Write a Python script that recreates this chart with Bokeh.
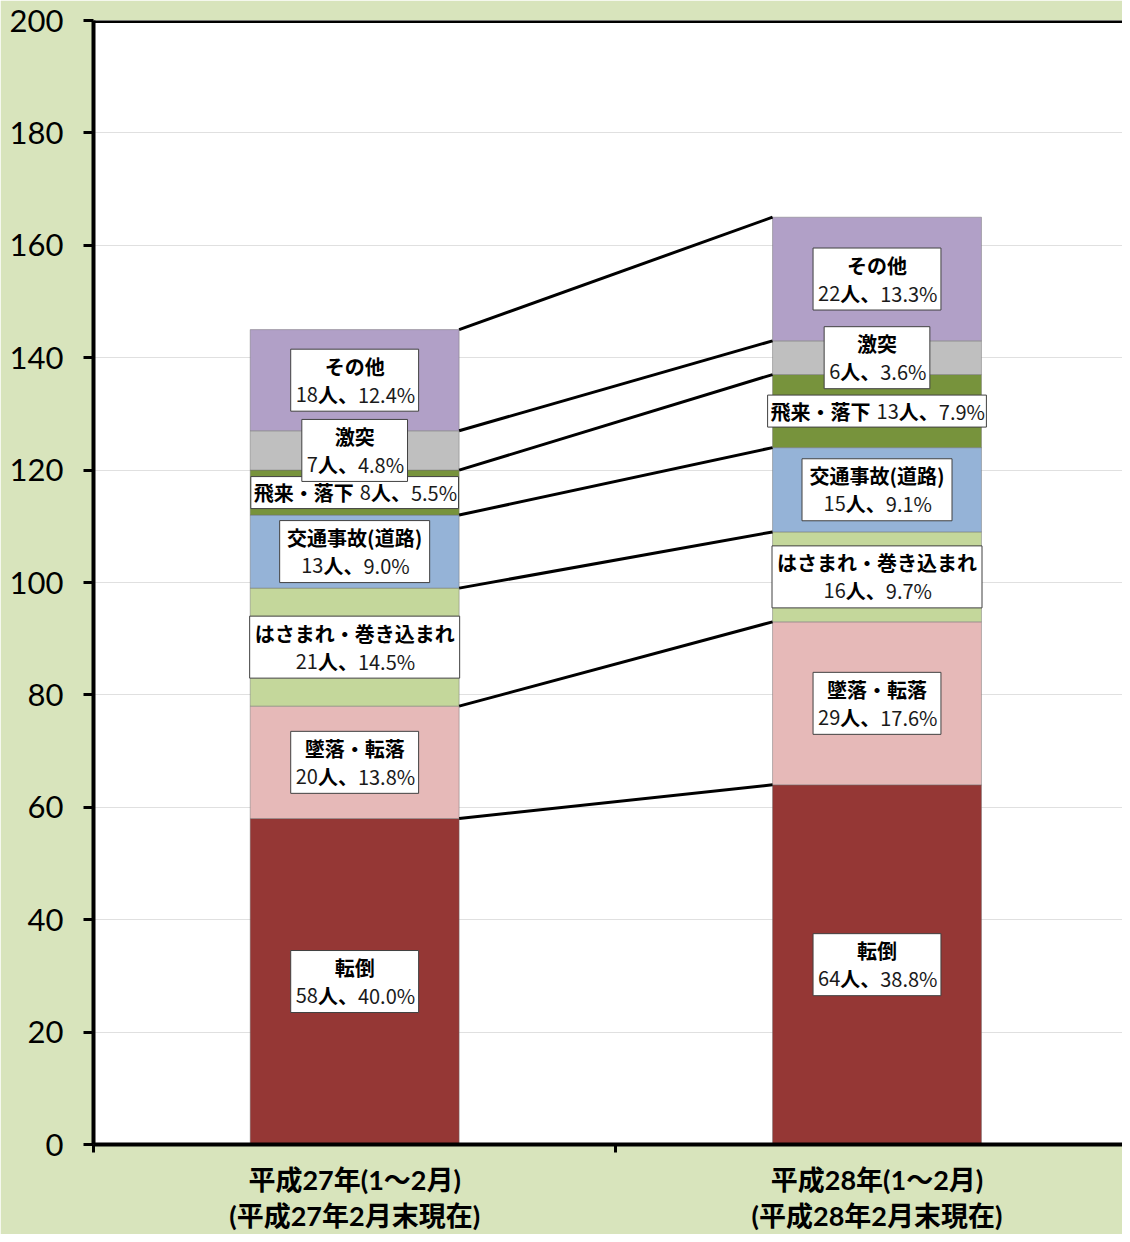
from bokeh.plotting import figure
from bokeh.models import ColumnDataSource, FixedTicker, Span, LinearAxis
from bokeh.core.properties import value
from bokeh.embed import file_html
from bokeh.resources import INLINE

# ---- data ----
categories = ["転倒", "墜落・転落", "はさまれ・巻き込まれ", "交通事故(道路)", "飛来・落下", "激突", "その他"]
period_line1 = ["平成27年(1～2月)", "平成28年(1～2月)"]
period_line2 = ["(平成27年2月末現在)", "(平成28年2月末現在)"]
h27_values = [58, 20, 21, 13, 8, 7, 18]
h28_values = [64, 29, 16, 15, 13, 6, 22]
h27_pct = ["40.0%", "13.8%", "14.5%", "9.0%", "5.5%", "4.8%", "12.4%"]
h28_pct = ["38.8%", "17.6%", "9.7%", "9.1%", "7.9%", "3.6%", "13.3%"]
single_line_cats = ["飛来・落下"]
y_ticks = [0, 20, 40, 60, 80, 100, 120, 140, 160, 180, 200]

colors = ["#953735", "#e6b9b8", "#c4d79b", "#95b3d7", "#77933c", "#bfbfbf", "#b1a0c7"]
FONT = "Noto Sans CJK JP"
AXFONT = "Lato, 'Noto Sans CJK JP'"
FS = 20
UNIT = "人、"

def est_width(s, fs):
    w = 0.0
    for ch in s:
        if ord(ch) >= 0x2E80:
            w += 1.0
        elif ch.isdigit():
            w += 0.555
        elif ch == ".":
            w += 0.27
        elif ch == "%":
            w += 0.85
        elif ch in "()":
            w += 0.5
        elif ch == " ":
            w += 0.25
        else:
            w += 0.6
    return w * fs

p = figure(width=1122, height=1234, x_range=(-0.5, 1.47), y_range=(0, 200),
           output_backend="svg", toolbar_location=None,
           min_border_left=93, min_border_right=0, min_border_top=20, min_border_bottom=89)
p.border_fill_color = "#d8e4bc"
p.background_fill_color = "white"
p.outline_line_color = None

# y axis
p.yaxis.ticker = FixedTicker(ticks=y_ticks)
p.yaxis.axis_line_width = 4
p.yaxis.axis_line_color = "black"
p.yaxis.major_tick_out = 10
p.yaxis.major_tick_in = 0
p.yaxis.major_tick_line_width = 3
p.yaxis.minor_tick_line_color = None
p.yaxis.major_label_text_font = "Lato"
p.yaxis.major_label_text_font_size = "31px"
p.yaxis.major_label_text_color = "black"
p.yaxis.major_label_standoff = 20

# x axis: first label line + category separator ticks
p.xaxis.ticker = FixedTicker(ticks=[0, 1], minor_ticks=[-0.5, 0.5])
p.xaxis.major_label_overrides = {0: period_line1[0], 1: period_line1[1]}
p.xaxis.axis_line_width = 4
p.xaxis.axis_line_color = "black"
p.xaxis.major_tick_out = 0
p.xaxis.major_tick_in = 0
p.xaxis.major_tick_line_color = None
p.xaxis.minor_tick_out = 8
p.xaxis.minor_tick_in = 0
p.xaxis.minor_tick_line_width = 3
p.xaxis.minor_tick_line_color = "black"
p.xaxis.major_label_text_font = AXFONT
p.xaxis.major_label_text_font_style = "bold"
p.xaxis.major_label_text_font_size = "27px"
p.xaxis.major_label_text_color = "black"
p.xaxis.major_label_standoff = 10

ax2 = LinearAxis(ticker=FixedTicker(ticks=[0, 1], minor_ticks=[]),
                 major_label_overrides={0: period_line2[0], 1: period_line2[1]},
                 axis_line_color=None, major_tick_line_color=None, minor_tick_line_color=None,
                 major_tick_out=0, major_tick_in=0,
                 major_label_text_font=AXFONT, major_label_text_font_style="bold",
                 major_label_text_font_size="27px", major_label_text_color="black",
                 major_label_standoff=0)
p.add_layout(ax2, "below")

p.xgrid.grid_line_color = None
p.ygrid.grid_line_color = "#e0e0e0"
p.ygrid.grid_line_width = 1
p.ygrid.ticker = FixedTicker(ticks=y_ticks)

p.add_layout(Span(location=200, dimension="width", line_color="black", line_width=5))

# stacked bars
bar_w = 0.4
for xi, vals in enumerate([h27_values, h28_values]):
    bottoms, tops = [], []
    acc = 0
    for v in vals:
        bottoms.append(acc)
        acc += v
        tops.append(acc)
    src = ColumnDataSource(dict(x=[xi] * len(vals), bottom=bottoms, top=tops, color=colors))
    p.vbar(x="x", width=bar_w, bottom="bottom", top="top", fill_color="color",
           line_color="#6e6e6e", line_alpha=0.45, line_width=1, source=src)

# connector lines
c27, c28 = [], []
a = b = 0
for v1, v2 in zip(h27_values, h28_values):
    a += v1
    b += v2
    c27.append(a)
    c28.append(b)
p.segment(x0=[bar_w / 2] * len(c27), y0=c27, x1=[1 - bar_w / 2] * len(c28), y1=c28,
          line_color="black", line_width=3)

def put(xi, y, txt, xoff, yoff, bold, align="left"):
    p.text(x=[xi], y=[y], text=[txt], x_offset=xoff, y_offset=yoff, text_align=align,
           text_baseline="middle", text_font=value(FONT),
           text_font_style="bold" if bold else "normal",
           text_font_size=f"{FS}px", text_color="black" if bold else "#1a1a1a")

def put_value_line(xi, y, start, yoff, num, pct):
    # number (regular) + 人、 (bold) + percentage (regular)
    w_num = est_width(num, FS)
    w_unit = est_width(UNIT, FS)
    put(xi, y, num, start, yoff, False)
    put(xi, y, UNIT, start + w_num, yoff, True)
    put(xi, y, pct, start + w_num + w_unit, yoff, False)

# data labels
for xi, (vals, pcts) in enumerate([(h27_values, h27_pct), (h28_values, h28_pct)]):
    acc = 0
    for cat, v, pc in zip(categories, vals, pcts):
        mid = acc + v / 2
        acc += v
        num = str(v)
        w_line2 = est_width(num + UNIT + pc, FS)
        if cat in single_line_cats:
            wb = est_width(cat, FS)
            gap = 6
            W = wb + gap + w_line2 + 6
            p.rect(x=[xi], y=[mid], width=W, height=32, width_units="screen", height_units="screen",
                   fill_color="white", line_color="#404040", line_width=1)
            put(xi, mid, cat, -W / 2 + 3, 0, True)
            put_value_line(xi, mid, -W / 2 + 3 + wb + gap, 0, num, pc)
        else:
            W = max(est_width(cat, FS), w_line2) + 10
            p.rect(x=[xi], y=[mid], width=W, height=62, width_units="screen", height_units="screen",
                   fill_color="white", line_color="#404040", line_width=1)
            put(xi, mid, cat, 0, -14, True, align="center")
            put_value_line(xi, mid, -w_line2 / 2, 14, num, pc)

open("out.html", "w").write(file_html(p, INLINE))
